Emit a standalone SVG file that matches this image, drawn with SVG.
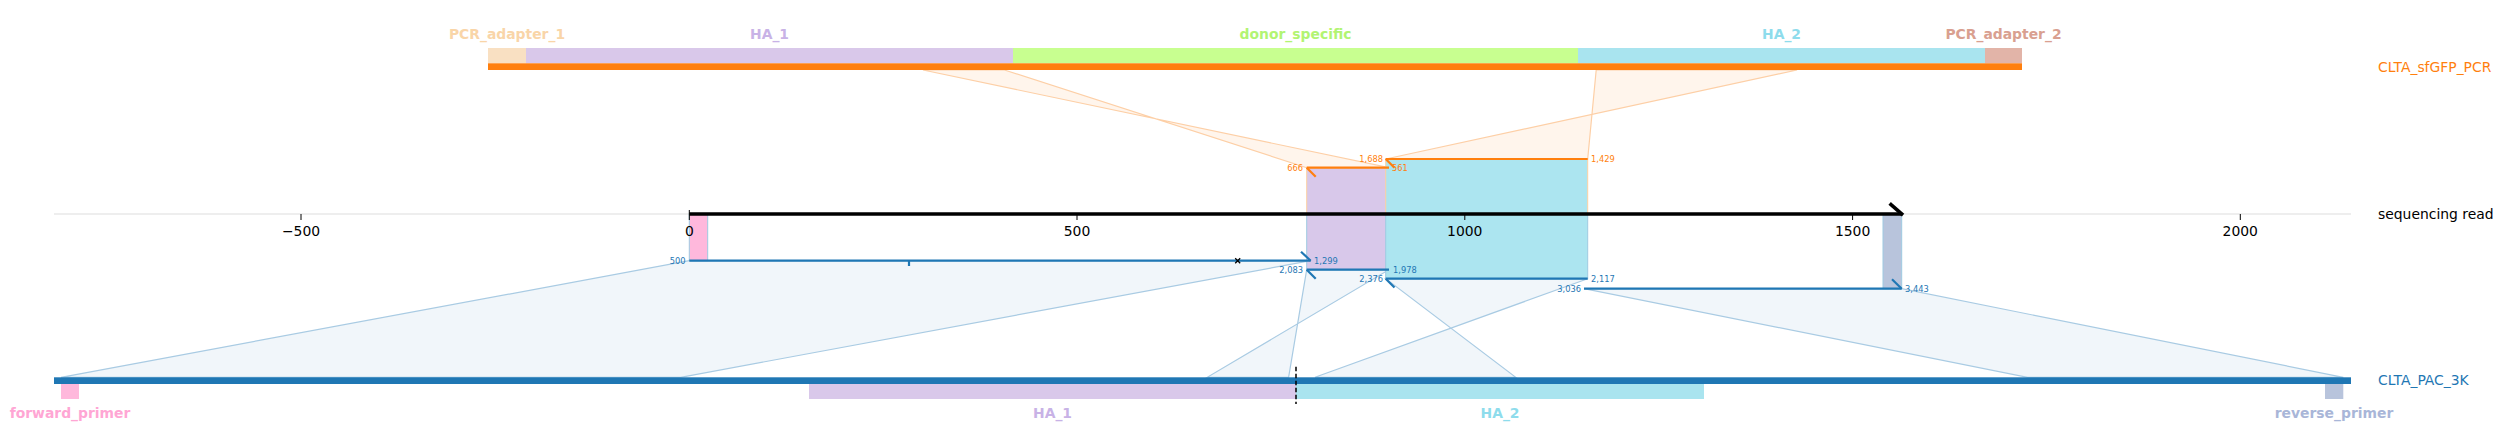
<svg xmlns="http://www.w3.org/2000/svg" width="2504" height="448" viewBox="0 0 2504 448">
<style>
text { font-family: "DejaVu Sans", "Liberation Sans", sans-serif; }
.flab { font-weight: bold; font-size: 13.9px; text-anchor: middle; }
.tick { font-size: 13.9px; text-anchor: middle; fill: #000; }
.trk { font-size: 13.9px; }
.num { font-size: 8.3px; }
.end { text-anchor: end; }
.o { fill: #ff7f0e; }
.b { fill: #1f77b4; }
.ol { stroke: #ff7f0e; stroke-width: 2.2; fill: none; }
.bl { stroke: #1f77b4; stroke-width: 2.2; fill: none; }
.opoly { fill: #fff5ec; stroke: #fdcfa6; stroke-width: 1.2; }
.bpoly { fill: #f1f6fa; stroke: #a9cbe3; stroke-width: 1.2; }
.tk { stroke: #000; stroke-width: 1; }
.rt { stroke: #fdd0a2; stroke-width: 1; }
.rb { stroke: #9ecae1; stroke-width: 1; }
</style>

<g id="connectors">
  <polygon class="opoly" points="923,70 1004.5,70 1306.7,167.7 1389,167.7"/>
  <polygon class="opoly" points="1596.2,70 1797,70 1385.7,159 1587.7,159"/>
  <polygon class="bpoly" points="689.3,260.7 1310.7,260.7 680.6,377.3 61,377.3"/>
  <polygon class="bpoly" points="1306.7,269.7 1389,269.7 1207.2,377.3 1288.6,377.3"/>
  <polygon class="bpoly" points="1385.7,278.7 1587.7,278.7 1315,377.3 1515.8,377.3"/>
  <polygon class="bpoly" points="1584,288.7 1901.7,288.7 2343.3,377.3 2027.6,377.3"/>
</g>

<g id="track-pcr">
  <rect x="488" y="48" width="38" height="15.3" fill="#f9e0c2"/>
  <rect x="526" y="48" width="487" height="15.3" fill="#d9c8ea"/>
  <rect x="1013" y="48" width="565" height="15.3" fill="#c8ff90"/>
  <rect x="1578" y="48" width="407" height="15.3" fill="#a9e4ef"/>
  <rect x="1985" y="48" width="37" height="15.3" fill="#e2b4a8"/>
  <rect x="488" y="63.3" width="1534" height="6.7" fill="#ff7f0e"/>
  <text class="flab" x="507" y="39.3" fill="#f9d5a8">PCR_adapter_1</text>
  <text class="flab" x="769.5" y="39.3" fill="#c8b2e6">HA_1</text>
  <text class="flab" x="1295.5" y="39.3" fill="#b2f472">donor_specific</text>
  <text class="flab" x="1781.5" y="39.3" fill="#8edcec">HA_2</text>
  <text class="flab" x="2003.5" y="39.3" fill="#d9a090">PCR_adapter_2</text>
  <text class="trk o" x="2378" y="71.7">CLTA_sfGFP_PCR</text>
</g>

<g id="track-read">
  <line x1="54" y1="214" x2="2351" y2="214" stroke="#dddddd" stroke-width="1.2"/>
  <rect class="rb" x="689.3" y="214" width="18.4" height="46.7" fill="#ffb8dc"/>
  <rect class="rt" x="1306.7" y="167.7" width="82.3" height="46.3" fill="#d8c8ea"/>
  <rect class="rb" x="1306.7" y="214" width="82.3" height="55.7" fill="#d8c8ea"/>
  <rect class="rt" x="1385.7" y="159" width="202" height="55" fill="#a9e4ef" fill-opacity="0.97"/>
  <rect class="rb" x="1385.7" y="214" width="202" height="64.7" fill="#a9e4ef" fill-opacity="0.97"/>
  <rect class="rb" x="1883" y="214" width="18.7" height="74.7" fill="#b8c4dc"/>
  <line x1="689.3" y1="214" x2="1901.7" y2="214" stroke="#000" stroke-width="3.6"/>
  <line x1="1891" y1="204.5" x2="1901.7" y2="214" stroke="#000" stroke-width="3.6" stroke-linecap="square"/>
  <line class="tk" x1="301" y1="214" x2="301" y2="220"/>
  <line class="tk" x1="689.3" y1="210" x2="689.3" y2="220"/>
  <line class="tk" x1="1077" y1="214" x2="1077" y2="220"/>
  <line class="tk" x1="1464.8" y1="214" x2="1464.8" y2="220"/>
  <line class="tk" x1="1852.6" y1="214" x2="1852.6" y2="220"/>
  <line class="tk" x1="2240.3" y1="214" x2="2240.3" y2="220"/>
  <text class="tick" x="301" y="236">−500</text>
  <text class="tick" x="689.3" y="236">0</text>
  <text class="tick" x="1077" y="236">500</text>
  <text class="tick" x="1464.8" y="236">1000</text>
  <text class="tick" x="1852.6" y="236">1500</text>
  <text class="tick" x="2240.3" y="236">2000</text>
  <text class="trk" x="2378" y="219" fill="#000">sequencing read</text>
</g>

<g id="alignments">
  <line class="ol" x1="1306.7" y1="167.7" x2="1389" y2="167.7"/>
  <line class="ol" x1="1306.7" y1="167.7" x2="1315.7" y2="176.7"/>
  <text class="num o end" x="1303" y="170.7">666</text>
  <text class="num o" x="1392" y="170.7">561</text>
  <line class="ol" x1="1385.7" y1="159" x2="1587.7" y2="159"/>
  <line class="ol" x1="1385.7" y1="159" x2="1394.5" y2="167.8"/>
  <text class="num o end" x="1383" y="162">1,688</text>
  <text class="num o" x="1591" y="162">1,429</text>

  <line class="bl" x1="689.3" y1="260.7" x2="1310.7" y2="260.7"/>
  <line class="bl" x1="1301" y1="251.7" x2="1310.7" y2="260.7"/>
  <line class="bl" x1="909" y1="260.7" x2="909" y2="266"/>
  <path d="M1235.2,258.2 L1240.2,263.2 M1235.2,263.2 L1240.2,258.2" stroke="#000" stroke-width="1.3"/>
  <text class="num b end" x="685.5" y="263.7">500</text>
  <text class="num b" x="1314" y="263.7">1,299</text>
  <line class="bl" x1="1306.7" y1="269.7" x2="1389" y2="269.7"/>
  <line class="bl" x1="1306.7" y1="269.7" x2="1315.7" y2="278.7"/>
  <text class="num b end" x="1303" y="272.7">2,083</text>
  <text class="num b" x="1393" y="272.7">1,978</text>
  <line class="bl" x1="1385.7" y1="278.7" x2="1587.7" y2="278.7"/>
  <line class="bl" x1="1385.7" y1="278.7" x2="1394.5" y2="287.5"/>
  <text class="num b end" x="1383" y="281.7">2,376</text>
  <text class="num b" x="1591" y="281.7">2,117</text>
  <line class="bl" x1="1584" y1="288.7" x2="1901.7" y2="288.7"/>
  <line class="bl" x1="1892" y1="279.3" x2="1901.7" y2="288.7"/>
  <text class="num b end" x="1581" y="291.7">3,036</text>
  <text class="num b" x="1905" y="291.7">3,443</text>
</g>

<g id="track-pac">
  <rect x="54" y="377.3" width="2297" height="6.7" fill="#1f77b4"/>
  <rect x="61" y="384" width="18" height="15" fill="#ffb8dc"/>
  <rect x="809" y="384" width="487" height="15" fill="#d9c8ea"/>
  <rect x="1296" y="384" width="408" height="15" fill="#a9e4ef"/>
  <rect x="2325" y="384" width="18.3" height="15" fill="#b8c4dc"/>
  <line x1="1296" y1="366.7" x2="1296" y2="404" stroke="#000" stroke-width="1.5" stroke-dasharray="4.5 2.5"/>
  <text class="flab" x="70" y="417.5" fill="#ffa6d4">forward_primer</text>
  <text class="flab" x="1052.5" y="417.5" fill="#c8b2e6">HA_1</text>
  <text class="flab" x="1500" y="417.5" fill="#8edcec">HA_2</text>
  <text class="flab" x="2334" y="417.5" fill="#a9b6d8">reverse_primer</text>
  <text class="trk b" x="2378" y="385">CLTA_PAC_3K</text>
</g>
</svg>
